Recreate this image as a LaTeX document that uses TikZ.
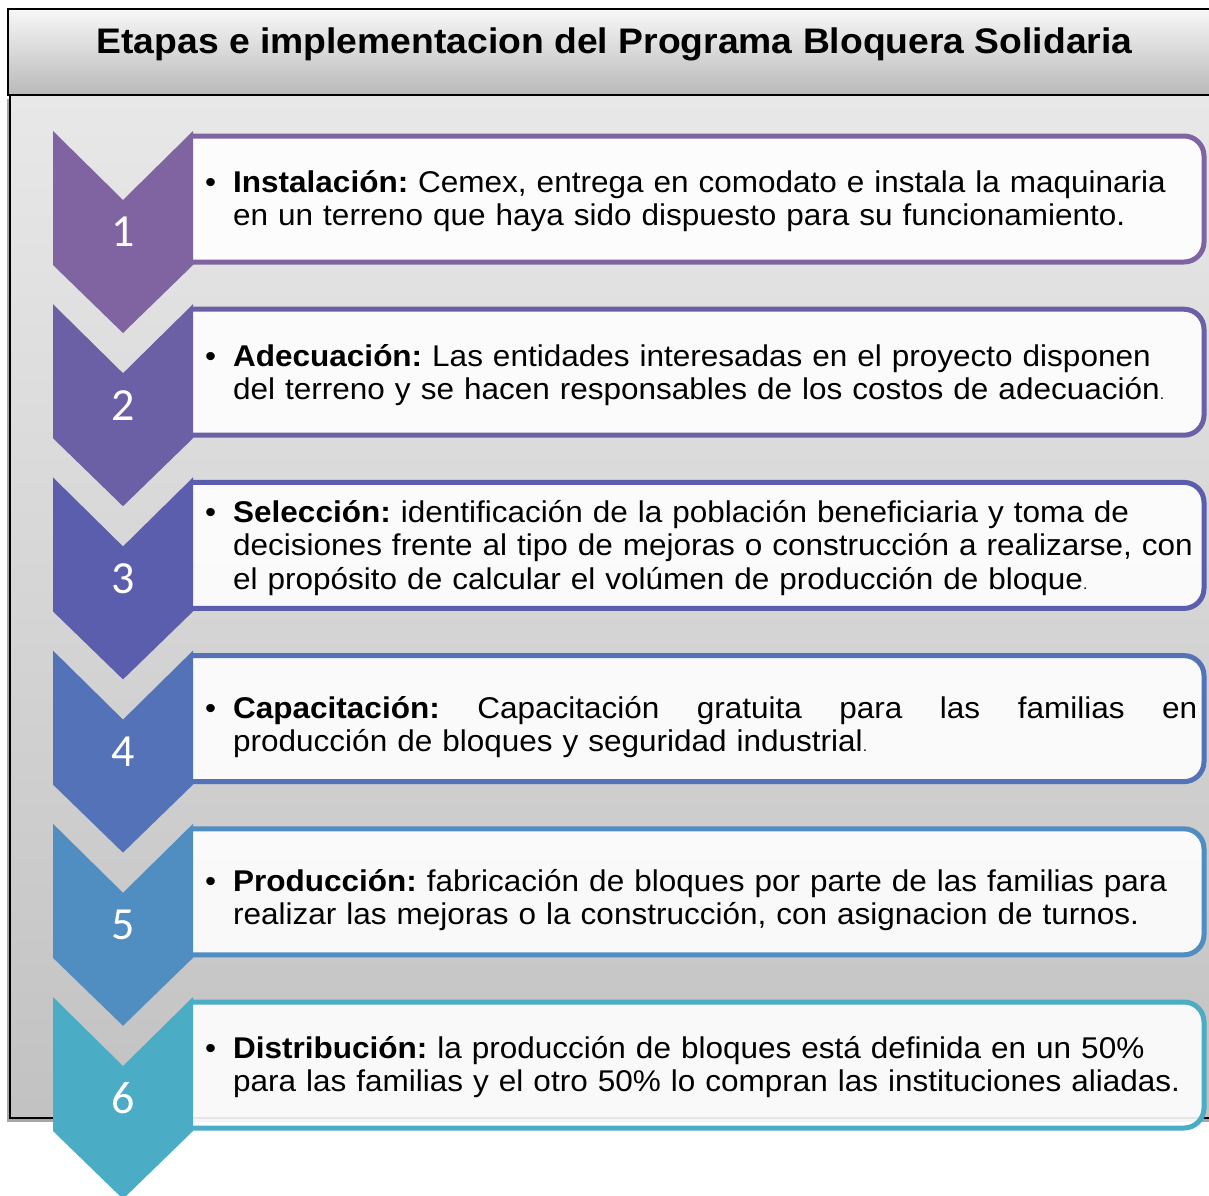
\documentclass[tikz,border=0pt]{standalone}
\usepackage{fontspec}
\setmainfont{Liberation Sans}[FakeStretch=1.05]
\newfontfamily\numfont{Carlito}
\usetikzlibrary{shadows}
\definecolor{c1}{HTML}{8064A2}
\definecolor{c2}{HTML}{6B5FA6}
\definecolor{c3}{HTML}{5A5EAD}
\definecolor{c4}{HTML}{5472B7}
\definecolor{c5}{HTML}{508DC0}
\definecolor{c6}{HTML}{4BACC6}
\newcommand{\smalldot}{{\fontsize{15pt}{15pt}\selectfont .}}
\newcommand{\bul}{\makebox[28pt][l]{\textbullet}}
\newcommand{\hang}{\raggedright\hangindent=28pt\hangafter=1\relax}
\begin{document}
\begin{tikzpicture}[x=1pt,y=-1pt,
  titlebox/.style={draw=black,line width=1.8pt,top color=gray!6,bottom color=gray!55},
  panel/.style={draw=black,line width=1.8pt,top color=black!9,bottom color=black!24,
     drop shadow={shadow xshift=-3pt,shadow yshift=-4pt,opacity=0.35,fill=black}},
  chev/.style={fill=#1,draw=none},
  stepbox/.style={draw=#1,line width=5pt,fill=white,fill opacity=0.9,rounded corners=20pt},
  numlabel/.style={text=white,font=\numfont\fontsize{46pt}{46pt}\selectfont,inner sep=0pt},
  steptext/.style={text width=992pt,inner sep=0pt,anchor=west,
     font=\fontsize{30pt}{33.6pt}\selectfont\frenchspacing}
]
\useasboundingbox (0,0) rectangle (1209,1195);
\clip (0,0) rectangle (1209,1195);
% panel and title
\path[panel] (10,95) rectangle (1230,1118);
\path[titlebox] (8,9) rectangle (1230,95);
\node[font=\bfseries\fontsize{35.5pt}{40pt}\selectfont,inner sep=0pt] (title) at (614.5,44) {Etapas e implementacion del Programa Bloquera Solidaria};
% steps
\foreach \i/\col in {1/c1,2/c2,3/c3,4/c4,5/c5,6/c6}{
  \pgfmathsetmacro\T{131+(\i-1)*173.2}
  \draw[stepbox=\col] (193,\T+5) -- (1204,\T+5) -- (1204,\T+131) -- (193,\T+131);
  \fill[chev=\col] (53,\T) -- (123,\T+69) -- (193,\T) -- (193,\T+134) -- (123,\T+202) -- (53,\T+134) -- cycle;
  \node[numlabel] (n\i) at (123,\T+101) {\i};
}
\node[steptext] (t1) at (205,201) {\hang\bul\textbf{Instalación:} Cemex, entrega en comodato e instala la maquinaria\newline en un terreno que haya sido dispuesto para su funcionamiento.\par};
\node[steptext] (t2) at (205,375) {\hang\bul\textbf{Adecuación:} Las entidades interesadas en el proyecto disponen\newline del terreno y se hacen responsables de los costos de adecuación\smalldot\par};
\node[steptext] (t3) at (205,548) {\hang\bul\textbf{Selección:} identificación de la población beneficiaria y toma de\newline decisiones frente al tipo de mejoras o construcción a realizarse, con\newline el propósito de calcular el volúmen de producción de bloque\smalldot\par};
\node[steptext] (t4) at (205,727) {\hang\bul\textbf{Capacitación:}\hfill Capacitación\hfill gratuita\hfill para\hfill las\hfill familias\hfill en\newline producción de bloques y seguridad industrial\smalldot\par};
\node[steptext] (t5) at (205,900) {\hang\bul\textbf{Producción:} fabricación de bloques por parte de las familias para\newline realizar las mejoras o la construcción, con asignacion de turnos.\par};
\node[steptext] (t6) at (205,1067) {\hang\bul\textbf{Distribución:} la producción de bloques está definida en un 50\%\newline para las familias y el otro 50\% lo compran las instituciones aliadas.\par};
\end{tikzpicture}
\end{document}
